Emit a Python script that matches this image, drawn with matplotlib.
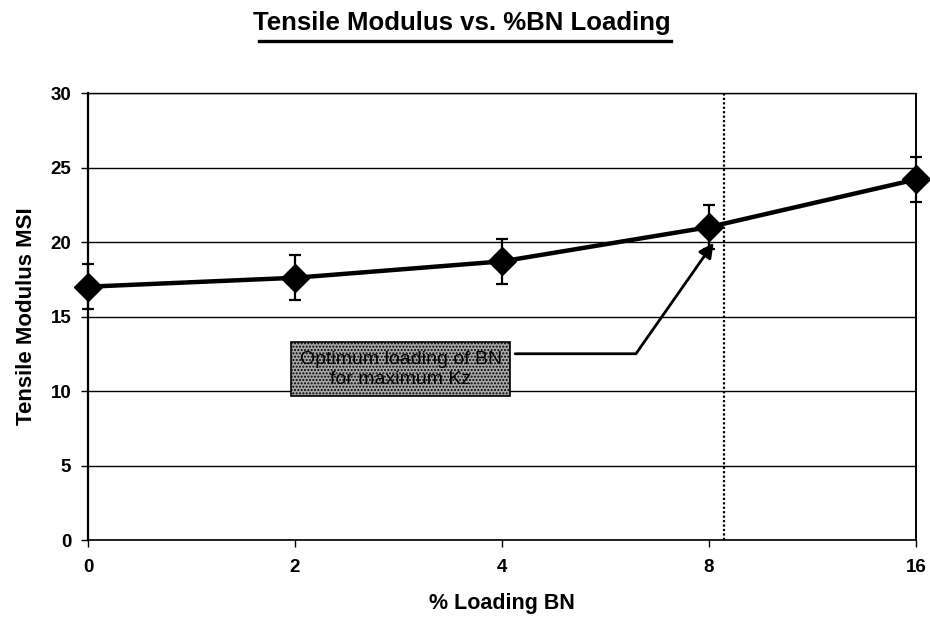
import matplotlib
matplotlib.use("Agg")
import matplotlib.pyplot as plt
import numpy as np

# Data
categories = ["0", "2", "4", "8", "16"]
modulus = [17.0, 17.6, 18.7, 21.0, 24.2]
errors = [1.5, 1.5, 1.5, 1.5, 1.5]
yticks = [0, 5, 10, 15, 20, 25, 30]

plt.rcParams['font.family'] = ['Liberation Sans', 'DejaVu Sans']

fig = plt.figure(figsize=(9.3, 6.18), dpi=100)
ax = fig.add_axes([0.0946, 0.1262, 0.8904, 0.7233])

x = np.arange(len(categories))
ax.set_xlim(0, len(categories) - 1)
ax.set_ylim(0, 30)

# gridlines
ax.set_yticks(yticks)
ax.yaxis.grid(True, color='black', linewidth=1.0)
ax.set_axisbelow(True)

# dotted vertical marker line near 8
ax.axvline(3.07, color='black', linestyle=(0, (1, 1)), linewidth=1.6, zorder=2)

# series
ax.errorbar(x, modulus, yerr=errors, color='black', linewidth=3.2, marker='D',
            markersize=14, ecolor='black', elinewidth=1.6, capsize=4, capthick=1.6,
            zorder=4, clip_on=False)

# annotation box
ax.annotate("", xy=(3.03, 20.1), xytext=(2.05, 12.5),
            arrowprops=dict(arrowstyle='-|>', color='black', lw=2.0,
                            mutation_scale=22,
                            connectionstyle='angle,angleA=0,angleB=55,rad=0'),
            zorder=5)
ax.text(1.51, 11.45, "Optimum loading of BN\nfor maximum Kz", ha='center', va='center',
        fontsize=14, color='black', linespacing=1.2, zorder=6,
        bbox=dict(boxstyle='square,pad=0.45', facecolor='#a8a8a8', edgecolor='black',
                  linewidth=1.2, hatch='.....'))

# ticks
ax.set_xticks(x)
ax.set_xticklabels(categories, fontsize=13.5, fontweight='bold')
for lbl in ax.get_yticklabels():
    lbl.set_fontsize(13.5)
    lbl.set_fontweight('bold')
ax.tick_params(axis='x', direction='out', length=5, width=1, pad=9)
ax.tick_params(axis='y', direction='out', length=5, width=1, pad=7)

ax.spines['left'].set_linewidth(1.6)
ax.spines['bottom'].set_linewidth(1.2)
ax.spines['top'].set_linewidth(1.0)
ax.spines['right'].set_linestyle((0, (1, 1)))
ax.spines['right'].set_linewidth(1.4)

ax.set_xlabel("% Loading BN", fontsize=15.5, fontweight='bold', labelpad=12)
ax.set_ylabel("Tensile Modulus MSI", fontsize=16, fontweight='bold', labelpad=10)

fig.text(0.497, 0.962, "Tensile Modulus vs. %BN Loading", ha='center', va='center',
         fontsize=18.5, fontweight='bold')
fig.add_artist(plt.Line2D([0.278, 0.722], [0.934, 0.934], color='black', linewidth=2.4,
                          transform=fig.transFigure))

fig.savefig("out.png", dpi=100)
